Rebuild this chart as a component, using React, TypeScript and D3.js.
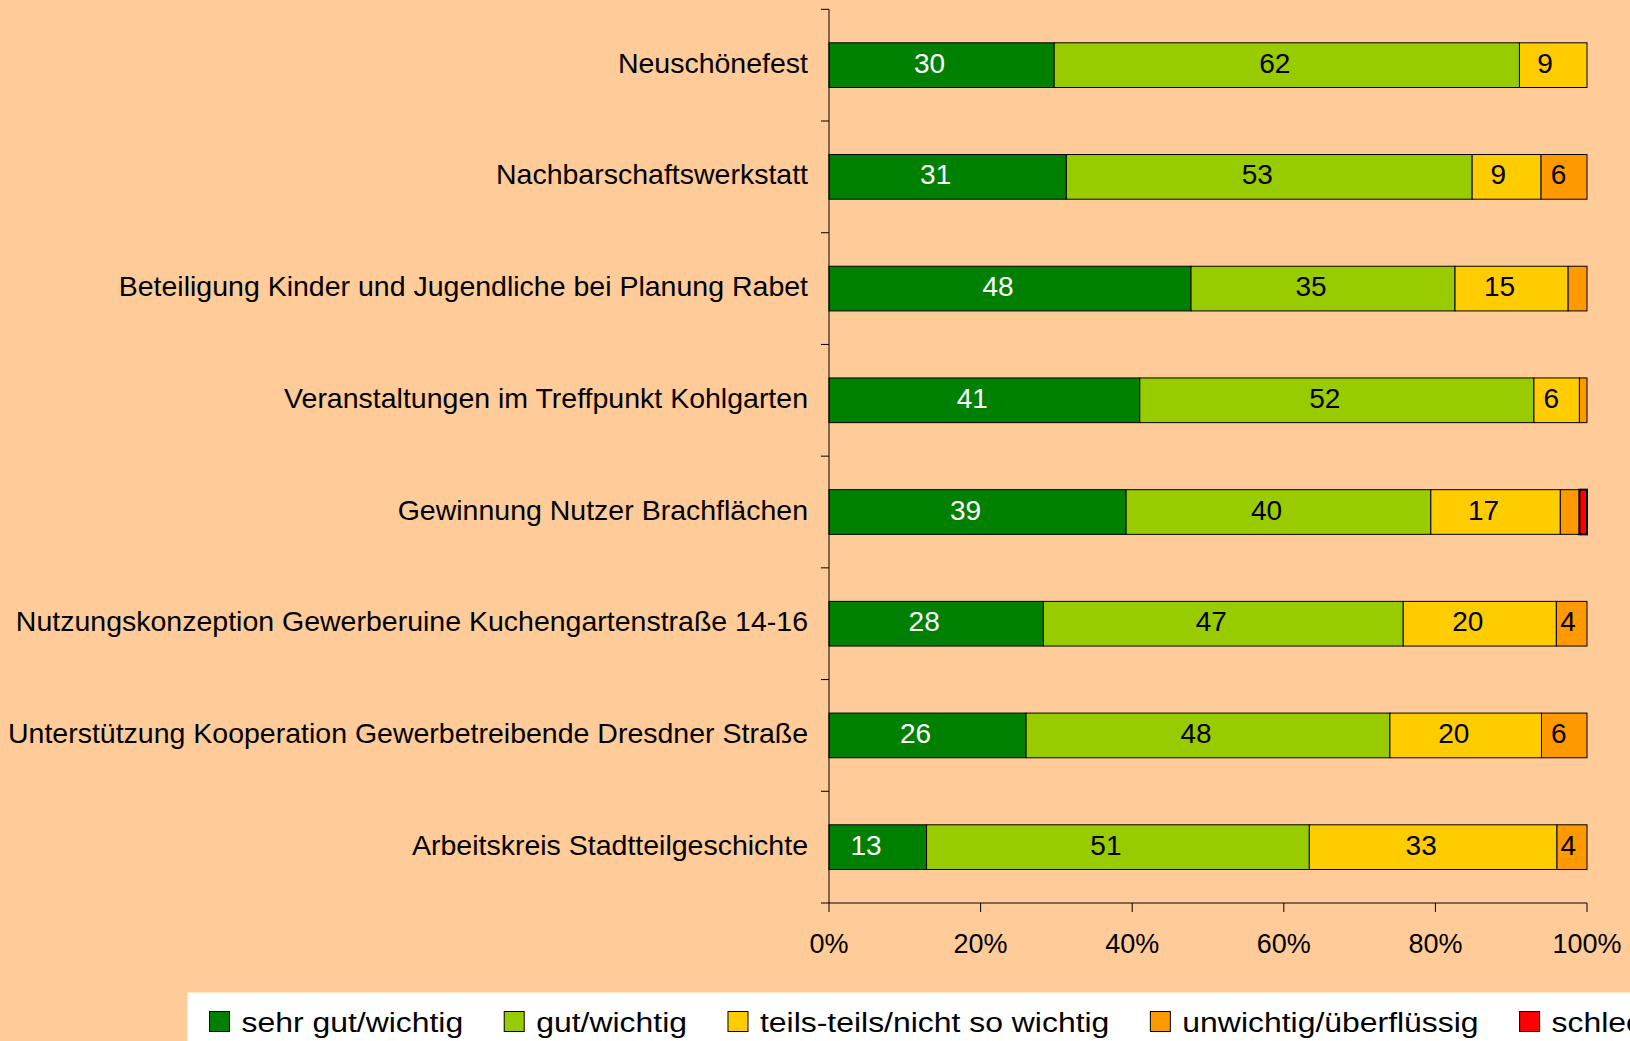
import React, { useEffect, useRef } from 'react';
import * as d3 from 'd3';

const categories = [
  'Neuschönefest',
  'Nachbarschaftswerkstatt',
  'Beteiligung Kinder und Jugendliche bei Planung Rabet',
  'Veranstaltungen im Treffpunkt Kohlgarten',
  'Gewinnung Nutzer Brachflächen',
  'Nutzungskonzeption Gewerberuine Kuchengartenstraße 14-16',
  'Unterstützung Kooperation Gewerbetreibende Dresdner Straße',
  'Arbeitskreis Stadtteilgeschichte',
];
const seriesNames = [
  'sehr gut/wichtig',
  'gut/wichtig',
  'teils-teils/nicht so wichtig',
  'unwichtig/überflüssig',
  'schlecht/völlig überflüssig',
];
const sehrGut = [30, 31, 48, 41, 39, 28, 26, 13];
const gut = [62, 53, 35, 52, 40, 47, 48, 51];
const teils = [9, 9, 15, 6, 17, 20, 20, 33];
const unwichtig = [0, 6, 2.5, 1, 2.5, 4, 6, 4];
const schlecht = [0, 0, 0, 0, 1, 0, 0, 0];
const xTicks = [0, 0.2, 0.4, 0.6, 0.8, 1];

const COLORS = ['#008000', '#99CC00', '#FFCC00', '#FF9900', '#FF0000'];
const BG = '#FFCC99';
const FONT = '"Liberation Sans", Arial, sans-serif';
const W = 1630;
const H = 1041;

export default function App() {
  const legendRef = useRef<SVGGElement>(null);

  useEffect(() => {
    document.body.style.margin = '0';
    document.body.style.background = BG;
  }, []);

  const series = [sehrGut, gut, teils, unwichtig, schlecht];
  const table = categories.map((c, i) => {
    const row: any = { cat: c };
    seriesNames.forEach((s, k) => (row[s] = series[k][i]));
    return row;
  });
  const stacked = d3.stack().keys(seriesNames).offset(d3.stackOffsetExpand)(table);

  const x = d3.scaleLinear().domain([0, 1]).range([829, 1587]);
  const y = d3.scaleBand().domain(categories).range([9.3, 903]).paddingInner(0.6).paddingOuter(0.3);
  const step = y.step();
  const fmt = d3.format('.0%');

  // legend laid out from measured text widths (text is stretched horizontally)
  useEffect(() => {
    const g = d3.select(legendRef.current);
    g.selectAll('*').remove();
    g.append('rect').attr('x', 187.5).attr('y', 992.5).attr('width', 1500).attr('height', 60).attr('fill', '#ffffff');
    const sx = 1.14;
    let cx = 209.5;
    seriesNames.forEach((name, k) => {
      g.append('rect')
        .attr('x', cx).attr('y', 1011.5).attr('width', 20).attr('height', 20)
        .attr('fill', COLORS[k]).attr('stroke', '#000').attr('stroke-width', 1);
      const t = g.append('text')
        .attr('transform', `translate(${cx + 32},1032) scale(${sx},1)`)
        .attr('font-family', FONT).attr('font-size', 28).attr('fill', '#000')
        .text(name);
      const w = (t.node() as SVGTextElement).getComputedTextLength() * sx;
      cx += 32 + w + 41;
    });
  }, []);

  return (
    <svg width={W} height={H} style={{ display: 'block', overflow: 'hidden' }} fontFamily={FONT}>
      <rect width={W} height={H} fill={BG} />
      {stacked.map((layer, k) => (
        <g key={layer.key}>
          {layer.map((d, i) => {
            const w = x(d[1]) - x(d[0]);
            if (w <= 0) return null;
            return (
              <rect key={i} x={x(d[0])} y={y(categories[i])} width={w} height={y.bandwidth()}
                fill={COLORS[k]} stroke="#000" strokeWidth={k === 4 ? 2 : 1} />
            );
          })}
        </g>
      ))}
      {stacked.map((layer, k) => (
        <g key={'l' + layer.key}>
          {layer.map((d, i) => {
            const v = series[k][i];
            if (v < 4) return null;
            const label = String(Math.round(v));
            const w = x(d[1]) - x(d[0]);
            const cx = (x(d[0]) + x(d[1])) / 2 - Math.min(12, w * 0.12);
            return (
              <text key={i} x={cx} y={(y(categories[i]) as number) + y.bandwidth() / 2 + 7.5}
                textAnchor="middle" fontSize={28} fill={k === 0 ? '#fff' : '#000'}>
                {label}
              </text>
            );
          })}
        </g>
      ))}
      {/* y axis */}
      <line x1={829} x2={829} y1={9.3} y2={903} stroke="#000" strokeWidth={1} />
      {d3.range(categories.length + 1).map((i) => (
        <line key={'yt' + i} x1={821} x2={829} y1={9.3 + i * step} y2={9.3 + i * step} stroke="#000" />
      ))}
      {categories.map((c) => (
        <text key={'yl' + c} x={808} y={(y(c) as number) + y.bandwidth() / 2 + 7.5}
          textAnchor="end" fontSize={28.5} fill="#000">
          {c}
        </text>
      ))}
      {/* x axis */}
      <line x1={829} x2={1587} y1={903} y2={903} stroke="#000" strokeWidth={1} />
      {xTicks.map((t) => (
        <g key={'xt' + t}>
          <line x1={x(t)} x2={x(t)} y1={903} y2={912} stroke="#000" />
          <text x={x(t)} y={953} textAnchor="middle" fontSize={27} fill="#000">
            {fmt(t)}
          </text>
        </g>
      ))}
      <g ref={legendRef} />
    </svg>
  );
}
